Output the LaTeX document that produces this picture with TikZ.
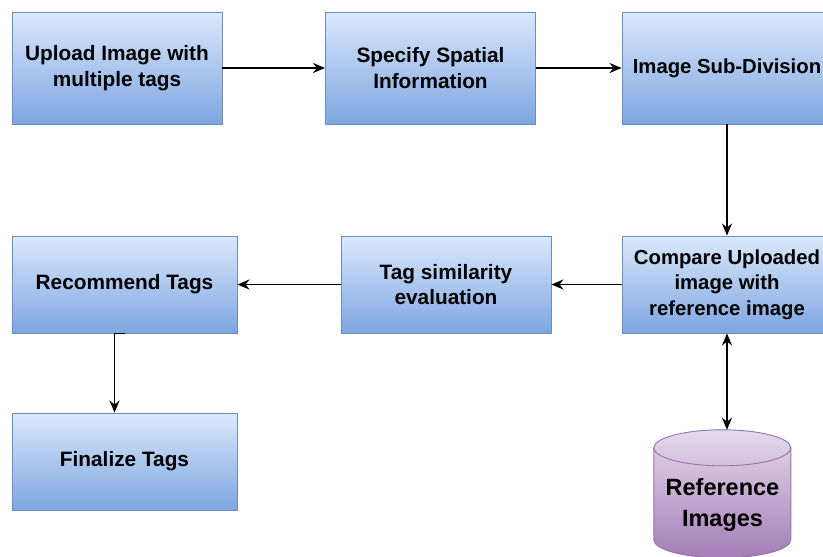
\documentclass[tikz,border=0pt]{standalone}
\usepackage{fontspec}
\setmainfont{Liberation Sans}
\usetikzlibrary{arrows.meta}
\definecolor{boxtop}{HTML}{DAE8FC}
\definecolor{boxbot}{HTML}{7EA6E0}
\definecolor{boxline}{HTML}{6C8EBF}
\definecolor{cyltop}{HTML}{E6DAEC}
\definecolor{cylbot}{HTML}{A47DB6}
\definecolor{cylline}{HTML}{9673A6}
\tikzset{
  stepbox/.style={rectangle, draw=boxline, line width=0.9pt, top color=boxtop, bottom color=boxbot,
    minimum width=#1, minimum height=97pt, inner sep=0pt, align=center,
    font=\fontsize{20.8}{25.5}\selectfont\bfseries},
  stepbox/.default=210pt,
  arr/.style={line width=1.7pt, -{Stealth[length=12pt,width=10pt]}},
  darr/.style={line width=1.7pt, {Stealth[length=12pt,width=10pt]}-{Stealth[length=12pt,width=10pt]}}
}
\begin{document}
\begin{tikzpicture}[x=1pt,y=-1pt]
\useasboundingbox (0,0) rectangle (823,557);
\node[stepbox, minimum height=112pt] (up) at (117,68) {Upload Image with\\multiple tags};
\node[stepbox, minimum height=112pt] (spec) at (430.5,68) {Specify Spatial\\Information};
\node[stepbox, minimum height=112pt, font=\fontsize{20.3}{25.5}\selectfont\bfseries] (sub) at (727,68) {Image Sub-Division};
\node[stepbox, font=\fontsize{20.3}{25.5}\selectfont\bfseries] (cmp) at (727,284.5) {Compare Uploaded\\image with\\reference image};
\node[stepbox] (tag) at (446,284.5) {Tag similarity\\evaluation};
\node[stepbox=225pt] (rec) at (124.5,284.5) {Recommend Tags};
\node[stepbox=225pt] (fin) at (124.5,461.5) {Finalize Tags};
% cylinder
\node[minimum width=137pt, minimum height=128pt, inner sep=0pt] (ref) at (722.5,494) {};
\shade[top color=cyltop, bottom color=cylbot, draw=cylline, line width=0.9pt]
  (ref.north west) ++(0,18) -- ++(0,92) arc[start angle=180, end angle=360, x radius=68.5pt, y radius=18pt]
  -- ++(0,-92) arc[start angle=0, end angle=180, x radius=68.5pt, y radius=18pt] -- cycle;
\draw[cylline, line width=0.9pt] (ref.north west) ++(0,18) arc[start angle=180, end angle=360, x radius=68.5pt, y radius=18pt];
\node[align=center, font=\fontsize{23.5}{31}\selectfont\bfseries] (reftxt) at (722.5,505) {Reference\\Images};
% connectors
\draw[arr] (up) -- (spec);
\draw[arr] (spec) -- (sub);
\draw[arr] (sub) -- (cmp);
\draw[arr] (cmp) -- (tag);
\draw[arr] (tag) -- (rec);
\draw[arr] (rec.south) -| ([xshift=-10pt]fin.north);
\draw[darr] (cmp.south) -- (cmp.south |- ref.north);
\end{tikzpicture}
\end{document}
